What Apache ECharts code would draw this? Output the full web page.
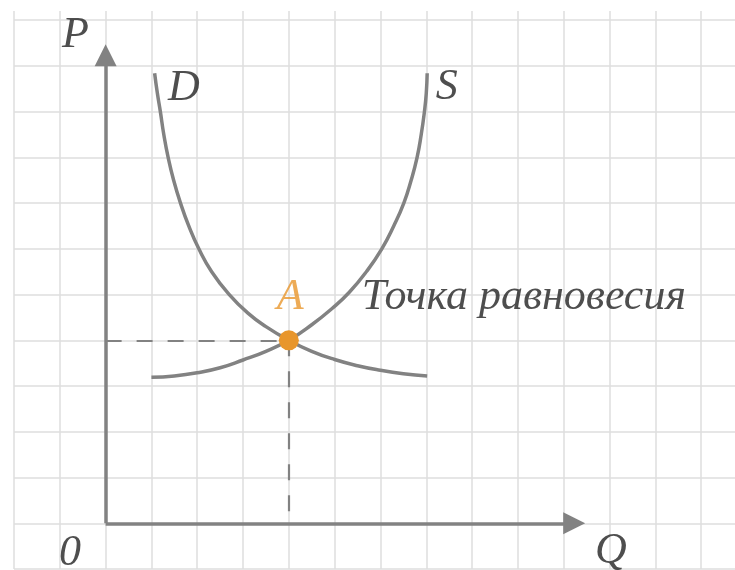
<!DOCTYPE html>
<html>
<head>
<meta charset="utf-8">
<script src="https://cdn.jsdelivr.net/npm/echarts@6/dist/echarts.min.js"></script>
<style>
  html, body { margin: 0; padding: 0; background: #fff; }
  #chart { width: 735px; height: 570px; }
</style>
</head>
<body>
<div id="chart"></div>
<script>
// demand curve D (Q, P)
var demand = [[1.07, 9.84], [1.13, 9.4], [1.195, 9], [1.27, 8.5], [1.365, 8], [1.485, 7.5], [1.635, 7],
  [1.815, 6.5], [2.035, 6], [2.315, 5.5], [2.7, 5], [3.1, 4.6], [3.5, 4.3], [4, 4], [4.5, 3.76],
  [5, 3.58], [5.5, 3.445], [6, 3.345], [6.5, 3.27], [7.02, 3.22]];
// supply curve S (Q, P)
var supply = [[1.0, 3.19], [1.5, 3.22], [2.0, 3.29], [2.5, 3.4], [3.0, 3.57], [3.5, 3.76], [4, 4], [4.5, 4.34],
  [4.95, 4.7], [5.32, 5.05], [5.7, 5.51], [6.03, 6], [6.29, 6.5], [6.51, 7], [6.67, 7.5], [6.8, 8], [6.89, 8.5],
  [6.96, 9], [7.0, 9.4], [7.02, 9.84]];
// equilibrium point A
var equilibrium = [4, 4];
// axes with arrows
var axisLines = [[[0, 0], [0, 10.23]], [[0, 0], [10.23, 0]]];
// text labels: [Q, P, text]
var labels = [
  [-0.66, 10.66, 'P'],
  [1.71, 9.51, 'D'],
  [7.45, 9.52, 'S'],
  [-0.78, -0.66, '0'],
  [11.03, -0.61, 'Q']
];
var pointLabel = [4.03, 4.93, 'A'];
var noteLabel = [5.59, 4.93, 'Точка равновесия'];

var gray = '#828282';
var textColor = '#222222';
var orange = '#E8962C';
var fontFamily = '"Liberation Serif", "DejaVu Serif", serif';

var myChart = echarts.init(document.getElementById('chart'));

var option = {
  animation: false,
  backgroundColor: '#ffffff',
  grid: { left: 14, top: 11, right: 0, bottom: 1 },
  xAxis: {
    type: 'value',
    min: -2,
    max: 13.74,
    interval: 1,
    axisLine: { show: false },
    axisTick: { show: false },
    axisLabel: { show: false },
    splitLine: { show: true, showMaxLine: false, lineStyle: { color: '#dedede', width: 1.5 } }
  },
  yAxis: {
    type: 'value',
    min: -1,
    max: 11.2,
    interval: 1,
    axisLine: { show: false },
    axisTick: { show: false },
    axisLabel: { show: false },
    splitLine: { show: true, showMaxLine: false, lineStyle: { color: '#dedede', width: 1.5 } }
  },
  series: [
    {
      name: 'axes',
      type: 'lines',
      coordinateSystem: 'cartesian2d',
      symbol: ['none', 'triangle'],
      symbolSize: [15, 22],
      lineStyle: { color: gray, width: 3.5, opacity: 1 },
      data: axisLines.map(function (c) { return { coords: c }; }),
      z: 3
    },
    {
      name: 'guides',
      type: 'lines',
      coordinateSystem: 'cartesian2d',
      symbol: 'none',
      lineStyle: { color: gray, width: 2.2, type: [16, 15], opacity: 1 },
      data: [
        { coords: [[0, equilibrium[1]], equilibrium] },
        { coords: [equilibrium, [equilibrium[0], 0]] }
      ],
      z: 3
    },
    {
      name: 'D',
      type: 'line',
      data: demand,
      smooth: 0.5,
      showSymbol: false,
      lineStyle: { color: gray, width: 3.5 },
      z: 4
    },
    {
      name: 'S',
      type: 'line',
      data: supply,
      smooth: 0.5,
      showSymbol: false,
      lineStyle: { color: gray, width: 3.5 },
      z: 4
    },
    {
      name: 'A',
      type: 'scatter',
      data: [equilibrium],
      symbolSize: 20,
      itemStyle: { color: orange, opacity: 1 },
      z: 5
    },
    {
      name: 'labels',
      type: 'scatter',
      symbolSize: 0,
      data: labels.map(function (l) { return { value: [l[0], l[1]], name: l[2] }; }),
      label: {
        show: true,
        position: 'inside',
        formatter: '{b}',
        color: textColor,
        fontFamily: fontFamily,
        fontStyle: 'italic',
        fontSize: 44
      },
      z: 6
    },
    {
      name: 'pointLabel',
      type: 'scatter',
      symbolSize: 0,
      data: [{ value: [pointLabel[0], pointLabel[1]], name: pointLabel[2] }],
      label: {
        show: true,
        position: 'inside',
        formatter: '{b}',
        color: orange,
        fontFamily: fontFamily,
        fontStyle: 'italic',
        fontSize: 44
      },
      z: 6
    },
    {
      name: 'note',
      type: 'scatter',
      symbolSize: 0,
      data: [{ value: [noteLabel[0], noteLabel[1]], name: noteLabel[2] }],
      label: {
        show: true,
        position: 'right',
        distance: 0,
        formatter: '{b}',
        color: textColor,
        fontFamily: fontFamily,
        fontStyle: 'italic',
        fontSize: 44
      },
      z: 6
    }
  ]
};

myChart.setOption(option);
</script>
</body>
</html>
